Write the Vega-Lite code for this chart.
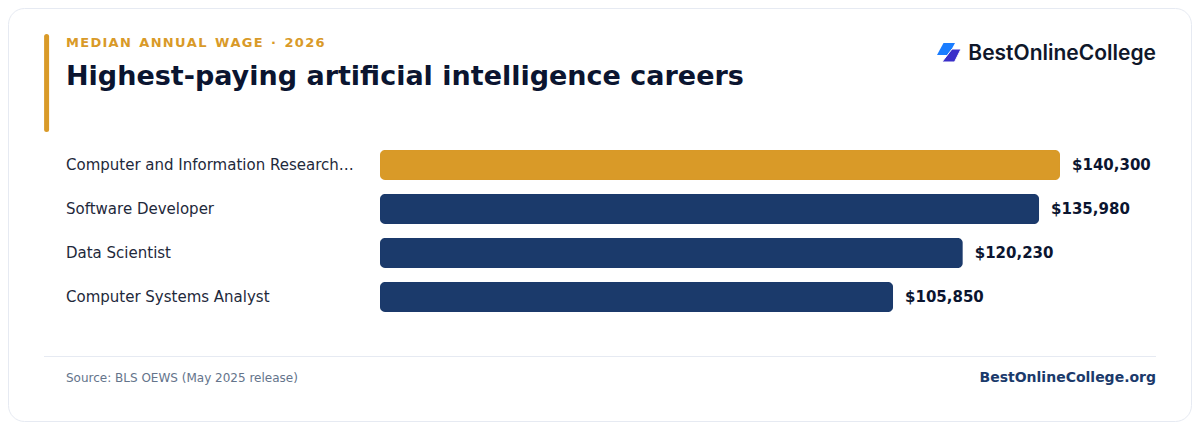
{
  "$schema": "https://vega.github.io/schema/vega-lite/v6.json",
  "width": 1183,
  "height": 413,
  "padding": 8,
  "autosize": {"type": "none"},
  "background": "#ffffff",
  "view": {"stroke": "#e6eaf2", "strokeWidth": 1, "cornerRadius": 16, "fill": "#ffffff"},
  "title": {
    "text": "M\u200aE\u200aD\u200aI\u200aA\u200aN\u200a\u200a \u200aA\u200aN\u200aN\u200aU\u200aA\u200aL\u200a\u200a \u200aW\u200aA\u200aG\u200aE\u200a\u200a \u200a·\u200a\u200a \u200a2\u200a0\u200a2\u200a6",
    "subtitle": "Highest-paying artificial intelligence careers",
    "anchor": "start",
    "frame": "group",
    "dx": 58,
    "offset": -82,
    "font": "DejaVu Sans",
    "fontSize": 13,
    "fontWeight": "bold",
    "color": "#d99a28",
    "subtitleFont": "DejaVu Sans",
    "subtitleFontSize": 27,
    "subtitleFontWeight": "bold",
    "subtitleColor": "#0b1530",
    "subtitlePadding": 14
  },
  "data": {
    "values": [
      {"occupation": "Computer and Information Research…", "wage": 140300, "tier": "top"},
      {"occupation": "Software Developer", "wage": 135980, "tier": "other"},
      {"occupation": "Data Scientist", "wage": 120230, "tier": "other"},
      {"occupation": "Computer Systems Analyst", "wage": 105850, "tier": "other"}
    ]
  },
  "encoding": {
    "y": {
      "field": "occupation",
      "type": "nominal",
      "sort": null,
      "title": null,
      "scale": {"range": [135, 311], "paddingInner": 0.31818, "paddingOuter": 0.15909},
      "axis": {
        "domain": false,
        "ticks": false,
        "grid": false,
        "labelAlign": "left",
        "labelPadding": -57.5,
        "labelFont": "DejaVu Sans",
        "labelFontSize": 15,
        "labelColor": "#1e293b",
        "labelLimit": 320
      }
    }
  },
  "layer": [
    {
      "mark": {"type": "bar", "cornerRadius": 5, "strokeWidth": 1, "strokeOpacity": 0.5},
      "encoding": {
        "x": {
          "field": "wage",
          "type": "quantitative",
          "axis": null,
          "scale": {"domain": [-76752, 167328], "nice": false, "zero": false}
        },
        "color": {
          "field": "tier",
          "type": "nominal",
          "legend": null,
          "scale": {"domain": ["top", "other"], "range": ["#d99a28", "#1b3a6b"]}
        },
        "stroke": {
          "field": "tier",
          "type": "nominal",
          "legend": null,
          "scale": {"domain": ["top", "other"], "range": ["#d99a28", "#1b3a6b"]}
        }
      }
    },
    {
      "mark": {"type": "text", "align": "left", "baseline": "middle", "dx": 12, "font": "DejaVu Sans", "fontSize": 15, "fontWeight": "bold", "color": "#0b1530"},
      "encoding": {
        "x": {"field": "wage", "type": "quantitative"},
        "text": {"field": "wage", "type": "quantitative", "format": "$,.0f"}
      }
    },
    {
      "data": {"values": [{"part": "accent"}]},
      "mark": {"type": "rule", "color": "#d99a28", "strokeWidth": 5, "strokeCap": "round"},
      "encoding": {
        "x": {"value": 38.6},
        "y": {"value": 28.5},
        "y2": {"value": 121.5}
      }
    },
    {
      "data": {"values": [{"part": "footer"}]},
      "mark": {"type": "rule", "color": "#e6eaf2", "strokeWidth": 1},
      "encoding": {
        "x": {"value": 36},
        "x2": {"value": 1148},
        "y": {"value": 348.5}
      }
    },
    {
      "data": {"values": [{"label": "Source: BLS OEWS (May 2025 release)"}]},
      "mark": {"type": "text", "align": "left", "baseline": "middle", "font": "DejaVu Sans", "fontSize": 12, "color": "#64748b"},
      "encoding": {
        "x": {"value": 58},
        "y": {"value": 370},
        "text": {"field": "label"}
      }
    },
    {
      "data": {"values": [{"label": "BestOnlineCollege.org"}]},
      "mark": {"type": "text", "align": "right", "baseline": "middle", "font": "DejaVu Sans", "fontSize": 14, "fontWeight": "bold", "color": "#1b3a6b"},
      "encoding": {
        "x": {"value": 1148},
        "y": {"value": 370},
        "text": {"field": "label"}
      }
    },
    {
      "data": {"values": [{"label": "BestOnlineCollege"}]},
      "mark": {"type": "text", "align": "right", "baseline": "middle", "font": "Inter", "fontSize": 21, "fontWeight": 600, "color": "#0f172a"},
      "encoding": {
        "x": {"value": 1148},
        "y": {"value": 46},
        "text": {"field": "label"}
      }
    },
    {
      "data": {"values": [{"part": "logo top"}]},
      "mark": {"type": "point", "filled": true, "opacity": 1, "size": 4, "color": "#1a7dff", "shape": "M 6.5 -6 L 18 -6 L 11.5 6 L 0 6 Z"},
      "encoding": {
        "x": {"value": 929},
        "y": {"value": 41}
      }
    },
    {
      "data": {"values": [{"part": "logo bottom"}]},
      "mark": {"type": "point", "filled": true, "opacity": 1, "size": 4, "fill": "#3a2fc9", "stroke": "#ffffff", "strokeWidth": 1, "shape": "M 10 -6.5 L 19 -6.5 L 12.5 6.5 L 0 6.5 Z"},
      "encoding": {
        "x": {"value": 934},
        "y": {"value": 47.5}
      }
    }
  ]
}
